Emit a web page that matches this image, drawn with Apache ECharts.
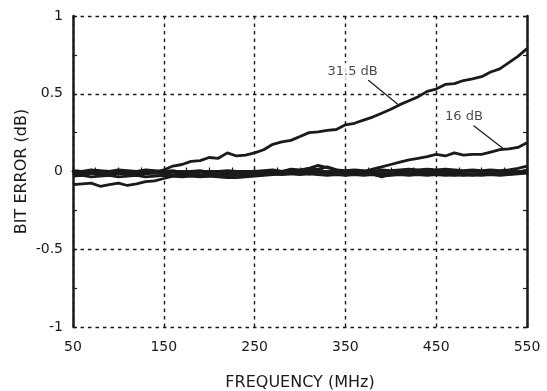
<!DOCTYPE html>
<html><head><meta charset="utf-8">
<script src="https://cdn.jsdelivr.net/npm/echarts@6/dist/echarts.min.js"></script>
<style>html,body{margin:0;padding:0;background:#fff}#c{width:547px;height:391px}</style>
</head><body><div id="c"></div>
<script>
const freq = [50,60,70,80,90,100,110,120,130,140,150,160,170,180,190,200,210,220,230,240,250,260,270,280,290,300,310,320,330,340,350,360,370,380,390,400,410,420,430,440,450,460,470,480,490,500,510,520,530,540,550];
const err31_5dB = [-0.01,-0.015,-0.01,-0.02,-0.01,-0.015,-0.01,-0.02,-0.01,-0.005,0.01,0.035,0.045,0.065,0.07,0.09,0.085,0.12,0.1,0.105,0.12,0.14,0.175,0.19,0.2,0.225,0.25,0.255,0.265,0.27,0.3,0.31,0.33,0.35,0.375,0.4,0.43,0.455,0.48,0.515,0.53,0.56,0.565,0.585,0.595,0.61,0.64,0.66,0.7,0.74,0.79];
const err16dB = [0,-0.01,-0.005,0,-0.01,-0.005,0,-0.01,-0.005,0,-0.005,0,-0.01,-0.005,0,-0.01,-0.005,0,-0.01,0,-0.005,0,0.005,0,0.01,0.005,0.02,0.04,0.025,0.01,0,0.005,0,0.015,0.03,0.045,0.06,0.075,0.085,0.095,0.11,0.1,0.12,0.105,0.11,0.11,0.125,0.14,0.145,0.155,0.185];
const errLow = [-0.085,-0.08,-0.075,-0.095,-0.085,-0.075,-0.09,-0.08,-0.065,-0.06,-0.045,-0.03,-0.025,-0.02,-0.03,-0.03,-0.035,-0.04,-0.04,-0.035,-0.03,-0.025,-0.02,-0.015,-0.015,-0.02,-0.015,-0.02,-0.025,-0.02,-0.025,-0.02,-0.025,-0.02,-0.03,-0.025,-0.02,-0.025,-0.02,-0.025,-0.02,-0.025,-0.02,-0.025,-0.02,-0.025,-0.02,-0.025,-0.02,-0.015,-0.01];
const errBandA = [0.005,0,0.01,0.005,0,0.01,0.005,0,0.01,0.005,0,0.005,-0.005,0,0.005,-0.005,0,0.005,0,-0.005,0,0.005,0.01,0,0.015,0.01,0.02,0.015,0.03,0.01,0.005,0.01,0.005,0,0.01,0.005,0.01,0.015,0.01,0.015,0.01,0.015,0.01,0.005,0.01,0.005,0.01,0.005,0.01,0.02,0.035];
const errBandB = [-0.015,-0.02,-0.01,-0.015,-0.02,-0.01,-0.015,-0.02,-0.015,-0.01,-0.015,-0.02,-0.015,-0.01,-0.02,-0.015,-0.02,-0.015,-0.02,-0.01,-0.015,-0.01,-0.005,-0.01,0,-0.005,0.005,0,-0.005,0,-0.01,-0.005,-0.01,-0.015,-0.035,-0.015,-0.01,-0.005,-0.01,-0.005,-0.01,-0.015,-0.01,-0.015,-0.02,-0.015,-0.02,-0.015,-0.01,-0.005,0.01];
const errBandC = [-0.03,-0.025,-0.035,-0.03,-0.025,-0.035,-0.03,-0.025,-0.035,-0.03,-0.025,-0.03,-0.035,-0.03,-0.035,-0.03,-0.025,-0.03,-0.025,-0.02,-0.025,-0.02,-0.015,-0.02,-0.015,-0.01,-0.015,-0.01,-0.015,-0.02,-0.015,-0.02,-0.015,-0.02,-0.015,-0.02,-0.015,-0.02,-0.015,-0.02,-0.015,-0.02,-0.025,-0.02,-0.025,-0.02,-0.015,-0.02,-0.015,-0.01,0];
const xTicks = [50,150,250,350,450,550];
const yTicks = [-1,-0.5,0,0.5,1];
const labelTexts = ['31.5 dB','16 dB'];
const labelPos = [[358,0.645],[480.6,0.352]];
const leaders = [[[375,0.588],[408,0.431]],[[491,0.296],[524,0.146]]];

const font = "'DejaVu Sans', 'Liberation Sans', Arial, sans-serif";
const ink = '#1a1a1a';
const pairs = arr => freq.map((f,i)=>[f,arr[i]]);
const curves = [err31_5dB, err16dB, errLow, errBandA, errBandB, errBandC];

const chart = echarts.init(document.getElementById('c'), null, {renderer:'canvas'});
const baseX = {type:'value', min:xTicks[0], max:xTicks[xTicks.length-1], interval:100};
const baseY = {type:'value', min:yTicks[0], max:yTicks[yTicks.length-1], interval:0.5};
const series = curves.map(c=>({type:'line', data:pairs(c), showSymbol:false, symbol:'none', lineStyle:{color:ink, width:2.8}, z:3, animation:false}));
series.push({type:'scatter', data:labelPos.map((p,i)=>[p[0],p[1],labelTexts[i]]), symbol:'rect', symbolSize:1,
  itemStyle:{color:'rgba(0,0,0,0)'},
  label:{show:true, position:'inside', formatter:p=>p.value[2], color:ink, fontFamily:font, fontSize:13, backgroundColor:'#ffffff', padding:[2,2]}, animation:false, z:10, zlevel:1});
series.push({type:'lines', coordinateSystem:'cartesian2d', data:leaders.map(l=>({coords:l})), lineStyle:{color:ink, width:1.2, opacity:1}, animation:false, z:4});

const tickStyle = {show:true, inside:true, length:4, lineStyle:{color:ink, width:1.2}};
chart.setOption({
  animation:false,
  grid:{left:73, right:20, top:16, bottom:64, containLabel:false, outerBoundsMode:'none'},
  xAxis:[
    Object.assign({}, baseX, {position:'bottom', name:'FREQUENCY (MHz)', nameLocation:'middle', nameGap:48, nameMoveOverlap:false,
      nameTextStyle:{color:ink, fontFamily:font, fontSize:16},
      axisLine:{show:true, lineStyle:{color:ink, width:2.5}},
      axisTick:tickStyle,
      minorTick:{show:true, splitNumber:4, length:4, lineStyle:{color:ink, width:1.2}},
      axisLabel:{color:ink, fontFamily:font, fontSize:14, margin:13},
      splitLine:{show:true, lineStyle:{color:ink, width:1.4, type:[3.5,4]}}}),
    Object.assign({}, baseX, {position:'top',
      axisLine:{show:true, lineStyle:{color:ink, width:2.5}},
      axisTick:tickStyle,
      minorTick:{show:true, splitNumber:4, length:4, lineStyle:{color:ink, width:1.2}},
      axisLabel:{show:false}, splitLine:{show:false}})
  ],
  yAxis:[
    Object.assign({}, baseY, {position:'left', name:'BIT ERROR (dB)', nameLocation:'middle', nameGap:43, nameRotate:90, nameMoveOverlap:false,
      nameTextStyle:{color:ink, fontFamily:font, fontSize:16},
      axisLine:{show:true, lineStyle:{color:ink, width:2.5}},
      axisTick:tickStyle,
      minorTick:{show:true, splitNumber:2, length:4, lineStyle:{color:ink, width:1.2}},
      axisLabel:{color:ink, fontFamily:font, fontSize:14, margin:10},
      splitLine:{show:true, lineStyle:{color:ink, width:1.4, type:[3.5,4]}}}),
    Object.assign({}, baseY, {position:'right',
      axisLine:{show:true, lineStyle:{color:ink, width:2.5}},
      axisTick:tickStyle,
      minorTick:{show:true, splitNumber:2, length:4, lineStyle:{color:ink, width:1.2}},
      axisLabel:{show:false}, splitLine:{show:false}})
  ],
  series: series
});
</script></body></html>
